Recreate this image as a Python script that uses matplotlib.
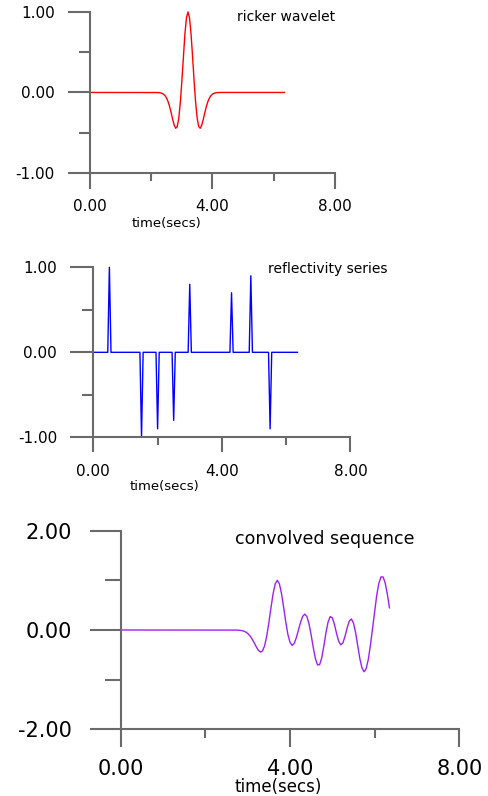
import numpy as np
import matplotlib
matplotlib.use('Agg')
import matplotlib.pyplot as plt
from matplotlib.ticker import FormatStrFormatter

# Sampling: 128 samples, dt = 0.05 s
dt = 0.05
n_samples = 128

# Ricker wavelet (non-zero part, first sample at t = 2.2 s)
ricker_start = 2.2
ricker_values = [-0.001, -0.002, -0.005, -0.011, -0.021, -0.039, -0.069, -0.113,
                 -0.175, -0.251, -0.334, -0.406, -0.445, -0.423, -0.319, -0.126,
                 0.142, 0.445, 0.727, 0.927, 1.000, 0.927, 0.727, 0.445, 0.142,
                 -0.126, -0.319, -0.423, -0.445, -0.406, -0.334, -0.251, -0.175,
                 -0.113, -0.069, -0.039, -0.021, -0.011, -0.005, -0.002, -0.001]

# Reflectivity spikes
spike_times = [0.5, 1.5, 2.0, 2.5, 3.0, 4.3, 4.9, 5.5]
spike_values = [1.0, -1.0, -0.9, -0.8, 0.8, 0.7, 0.9, -0.9]

# Convolved sequence (non-zero part, first sample at t = 2.7 s)
conv_start = 2.7
conv_values = [-0.001, -0.002, -0.005, -0.011, -0.021, -0.039, -0.069, -0.113,
               -0.175, -0.251, -0.334, -0.406, -0.445, -0.423, -0.319, -0.126,
               0.142, 0.445, 0.727, 0.927, 1.001, 0.929, 0.732, 0.456, 0.163,
               -0.087, -0.250, -0.310, -0.270, -0.155, 0.001, 0.157, 0.275,
               0.320, 0.269, 0.122, -0.101, -0.354, -0.574, -0.703, -0.699,
               -0.560, -0.322, -0.055, 0.162, 0.270, 0.246, 0.112, -0.069,
               -0.227, -0.300, -0.260, -0.127, 0.041, 0.179, 0.222, 0.139,
               -0.054, -0.316, -0.576, -0.765, -0.841, -0.780, -0.592, -0.307,
               0.035, 0.388, 0.704, 0.943, 1.069, 1.068, 0.943, 0.722, 0.446]

t = np.arange(n_samples) * dt


def fill_trace(start, values):
    # put a segment of values into a zero trace of n_samples
    trace = np.zeros(n_samples)
    i0 = int(round(start / dt))
    trace[i0:i0 + len(values)] = values
    return trace


ricker = fill_trace(ricker_start, ricker_values)
conv = fill_trace(conv_start, conv_values)
refl = np.zeros(n_samples)
for ts, v in zip(spike_times, spike_values):
    refl[int(round(ts / dt))] = v

AXIS_COL = '#6a6a6a'


def style_axes(ax, ymax, ylen, xlen, fs, ypad, xpad):
    ax.set_xlim(0, 8)
    ax.set_ylim(-ymax, ymax)
    ax.set_xticks([0, 4, 8])
    ax.set_xticks([2, 6], minor=True)
    ax.set_yticks([-ymax, 0, ymax])
    ax.set_yticks([-ymax / 2, ymax / 2], minor=True)
    for s in ['top', 'right']:
        ax.spines[s].set_visible(False)
    for s in ['left', 'bottom']:
        ax.spines[s].set_color(AXIS_COL)
        ax.spines[s].set_linewidth(1.5)
    ax.tick_params(axis='y', which='major', length=ylen[0], width=1.5,
                   color=AXIS_COL, pad=ypad, labelsize=fs)
    ax.tick_params(axis='y', which='minor', length=ylen[1], width=1.5,
                   color=AXIS_COL)
    ax.tick_params(axis='x', which='major', length=xlen[0], width=1.5,
                   color=AXIS_COL, pad=xpad, labelsize=fs)
    ax.tick_params(axis='x', which='minor', length=xlen[1], width=1.5,
                   color=AXIS_COL)
    ax.xaxis.set_major_formatter(FormatStrFormatter('%.2f'))
    ax.yaxis.set_major_formatter(FormatStrFormatter('%.2f'))
    ax.patch.set_visible(False)


fig = plt.figure(figsize=(4.88, 7.96), dpi=100)

# Ricker wavelet
ax1 = fig.add_axes([0.1844, 0.7827, 0.5020, 0.2023])
ax1.plot(t, ricker, color='red', lw=1.0, clip_on=False)
style_axes(ax1, 1.0, (15.8, 7.9), (11.5, 5.8), 11, 9.4, 7.1)
ax1.text(0.802, 0.969, 'ricker wavelet', transform=ax1.transAxes,
         ha='center', va='center', fontsize=10)
ax1.text(0.314, -0.311, 'time(secs)', transform=ax1.transAxes,
         ha='center', va='center', fontsize=9.5)

# Reflectivity series
ax2 = fig.add_axes([0.1912, 0.4506, 0.5270, 0.2136])
ax2.plot(t, refl, color='blue', lw=1.0, clip_on=False)
style_axes(ax2, 1.0, (16.6, 7.7), (10.8, 5.5), 11, 9.4, 8.6)
ax2.text(0.912, 0.988, 'reflectivity series', transform=ax2.transAxes,
         ha='center', va='center', fontsize=10)
ax2.text(0.275, -0.291, 'time(secs)', transform=ax2.transAxes,
         ha='center', va='center', fontsize=9.5)

# Convolved sequence
ax3 = fig.add_axes([0.2473, 0.0838, 0.6939, 0.2495])
ax3.plot(t, conv, color='#a020f0', lw=1.0, clip_on=False)
style_axes(ax3, 2.0, (22.0, 11.3), (13.2, 6.5), 15, 13.0, 8.4)
ax3.text(0.603, 0.957, 'convolved sequence', transform=ax3.transAxes,
         ha='center', va='center', fontsize=12.5)
ax3.text(0.465, -0.289, 'time(secs)', transform=ax3.transAxes,
         ha='center', va='center', fontsize=12)

plt.savefig('out.png', dpi=100)
